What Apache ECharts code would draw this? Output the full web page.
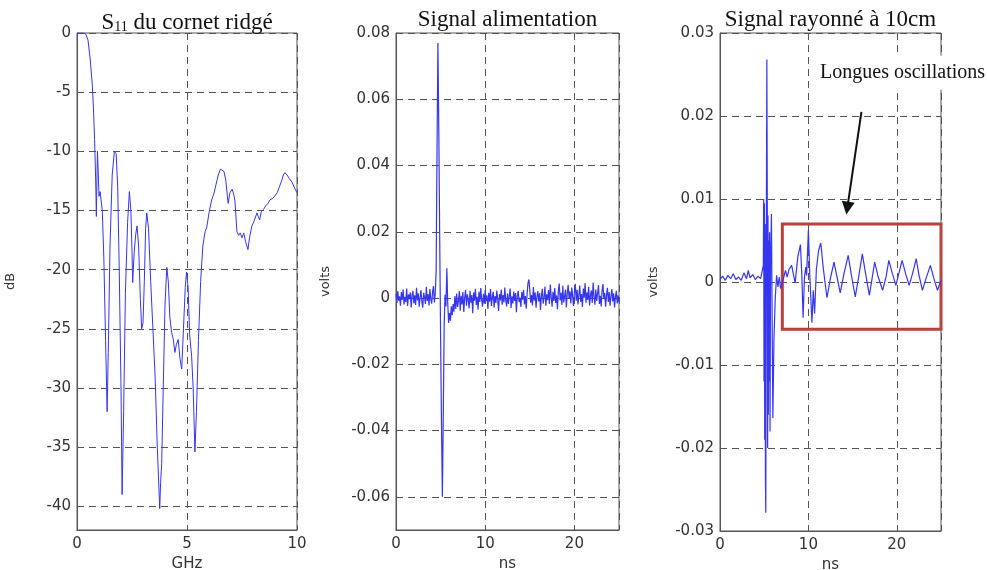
<!DOCTYPE html>
<html><head><meta charset="utf-8">
<script src="https://cdn.jsdelivr.net/npm/echarts@6/dist/echarts.min.js"></script>
<style>html,body{margin:0;padding:0;background:#fff}#c{width:987px;height:570px}</style>
</head><body><div id="c"></div>
<script>
// ---------- DATA ----------
const panelTitles = ['S11 du cornet ridgé', 'Signal alimentation', 'Signal rayonné à 10cm'];
const xAxisNames = ['GHz', 'ns', 'ns'];
const yAxisNames = ['dB', 'volts', 'volts'];

// S11 (GHz, dB)
const s11Points = [
  [0,0],[0.1,0],[0.2,0],[0.3,0],[0.4,-0.1],[0.5,-0.6],[0.6,-2.2],[0.7,-4.5],[0.75,-6.5],[0.8,-9],
  [0.85,-12.5],[0.88,-15.5],[0.9,-13],[0.93,-10],[0.96,-11.5],[1.0,-13.8],[1.05,-13.4],[1.15,-15],
  [1.22,-19],[1.3,-26],[1.37,-32],[1.42,-27],[1.5,-18],[1.6,-12],[1.7,-10],[1.78,-10.2],[1.85,-13],
  [1.92,-20],[2.0,-30],[2.05,-39],[2.12,-32],[2.2,-22],[2.3,-16],[2.38,-13.4],[2.45,-15],[2.5,-18.5],
  [2.53,-21.1],[2.6,-18.5],[2.67,-17],[2.73,-16.3],[2.8,-18],[2.88,-22.5],[2.94,-25],[3.0,-24.5],
  [3.06,-21],[3.12,-16.5],[3.17,-15.2],[3.25,-16.5],[3.35,-21],[3.45,-25],[3.55,-29],[3.65,-35],
  [3.76,-40.2],[3.8,-38],[3.85,-36.4],[3.92,-30],[4.0,-23],[4.08,-19.8],[4.15,-21],[4.22,-24],
  [4.3,-25.3],[4.38,-25.9],[4.45,-27],[4.52,-26.3],[4.6,-25.9],[4.68,-27.5],[4.76,-28.4],[4.84,-25],
  [4.92,-21.5],[4.98,-20.2],[5.05,-21.5],[5.12,-25.5],[5.21,-27.3],[5.28,-30],[5.36,-35.4],[5.43,-32],
  [5.52,-26],[5.62,-21],[5.72,-18],[5.82,-16.8],[5.9,-16.4],[6.0,-15.2],[6.12,-14.1],[6.22,-13.6],
  [6.32,-12.8],[6.42,-12.0],[6.52,-11.5],[6.6,-11.4],[6.68,-11.7],[6.76,-12.4],[6.87,-14.4],[6.95,-13.5],
  [7.05,-13.2],[7.12,-13.6],[7.18,-14.2],[7.27,-16.8],[7.35,-17.1],[7.42,-16.9],[7.5,-17.3],[7.58,-16.9],
  [7.66,-17.6],[7.77,-18.3],[7.85,-17.2],[7.95,-16.3],[8.05,-15.9],[8.18,-15.2],[8.24,-15.5],[8.3,-15.8],
  [8.38,-15.1],[8.48,-14.9],[8.58,-14.6],[8.68,-14.4],[8.77,-14.1],[8.88,-14.0],[8.98,-13.8],[9.1,-13.5],
  [9.2,-13.0],[9.3,-12.5],[9.38,-12.0],[9.45,-11.8],[9.55,-12.0],[9.65,-12.3],[9.77,-12.6],[9.87,-13.0],
  [9.94,-13.3],[10.0,-13.5]
];

// Feed signal, sampled every 0.1 ns (values in mV)
const feedStepNs = 0.1;
const feedValuesMv = [
  1.2,-1.5,2.1,-0.8,0.5,-2.3,1.8,-0.6,2.6,-1.9,
  0.4,-1.2,2.9,-2.4,1.1,-0.3,1.7,-2.8,0.9,2.2,
  -1.6,0.8,-2.1,3.1,-0.7,1.4,-2.6,0.2,2.4,-1.1,
  -2.9,1.6,0.3,-1.8,3.4,-0.9,1.2,-2.2,2.7,-0.4,
  -1.7,1.9,3.6,-1.3,1.5,8,45,77,50,18,
  -12,-38,-60,-35,-8,1.0,-2.5,9,-1.5,-7.5,
  -4.5,-6.8,-2.5,-5.2,-1.8,-4.1,0.6,-3.3,1.4,-2.7,
  -0.9,2.1,-3.8,0.7,-1.9,1.8,-4.2,0.2,2.5,-2.3,
  1.1,-0.7,-3.1,2.2,-1.4,0.9,-4.6,1.7,-0.8,2.8,
  -2.1,0.4,-3.5,1.9,-1.2,3.0,-0.5,-2.6,1.3,-1.7,
  2.4,-0.9,0.8,-3.3,1.6,-1.1,2.7,-2.4,0.3,1.9,
  -2.8,0.6,-1.5,2.3,-0.4,-3.9,1.2,-0.7,2.6,-2.0,
  0.9,-1.3,3.2,-0.6,-2.5,1.4,-1.8,0.7,2.9,-3.0,
  0.5,-1.6,2.0,-0.9,1.5,-4.3,0.8,2.2,-1.2,0.1,
  -2.7,1.8,-0.5,2.5,-1.9,0.6,-3.2,1.3,4.6,5.6,
  2.4,-1.4,0.9,-2.2,3.3,-0.8,1.7,-2.9,0.4,2.1,
  -1.0,1.5,-3.6,0.7,2.8,-1.7,0.2,3.5,-2.3,1.1,
  -0.6,2.4,-1.8,4.1,0.3,-2.6,1.9,-0.9,3.0,-1.5,
  0.8,-3.4,2.2,4.4,-0.7,1.6,-2.1,3.7,-1.3,0.5,
  2.6,-2.8,1.4,4.0,-0.2,2.0,-1.6,3.2,0.6,-2.4,
  1.8,4.3,-0.8,2.5,-1.9,0.9,3.8,-1.1,1.2,-2.7,
  2.9,0.1,4.5,-1.4,1.7,-0.6,3.4,-2.2,0.8,2.3,
  -1.5,4.7,0.4,-2.0,2.6,-0.9,1.3,3.9,-1.8,0.7,
  -2.5,2.1,4.2,-0.3,1.5,-2.6,0.9,3.1,-1.2,1.8,
  -2.3,0.6,2.7,-1.0,1.4,-2.8,0.3,2.2,-1.6,0.8,
  -1.2
];

// Radiated signal at 10 cm (ns, mV)
const radiatedPoints = [
  [0,0.3],[0.3,0.7],[0.6,0.2],[0.9,0.8],[1.2,0.4],[1.5,1.0],[1.8,0.3],[2.1,0.6],[2.4,0.2],[2.7,1.1],
  [3.0,0.4],[3.2,1.4],[3.4,0.5],[3.7,0.9],[4.0,0.3],[4.3,0.7],[4.6,0.4],[4.8,0.6],[4.9,2],
  [4.94,10],[4.98,-12],[5.02,9.5],[5.06,-19],[5.1,7],[5.14,-24],[5.18,-27.8],[5.24,6],[5.3,26.8],
  [5.35,9],[5.39,-20],[5.43,8],[5.47,-16],[5.51,5],[5.55,-12],[5.6,6],[5.66,-18],[5.72,3],
  [5.82,8.2],[5.9,-5],[5.98,-16.4],[6.1,-7],[6.25,-2],[6.4,0.8],[6.55,-0.6],[6.7,0.6],[6.85,-0.8],
  [7.0,-0.6],[7.2,0.5],[7.4,1.4],[7.6,0.6],[7.8,1.5],[8.1,2.0],[8.5,-0.1],
  [8.8,3.0],[9.1,4.5],[9.25,1.0],[9.4,-4.3],[9.55,0.5],[9.7,1.8],[9.8,0.8],[10.0,6.3],[10.15,1.0],
  [10.4,-4.9],[10.55,-1.0],[10.7,-3.8],[10.9,1.5],[11.15,3.8],[11.4,4.7],[11.7,1.5],[12.1,-1.9],
  [12.5,0.5],[12.9,2.4],[13.2,0.8],[13.6,-1.3],[14.0,0.9],[14.5,3.2],[14.9,0.6],[15.3,-1.8],
  [15.7,0.7],[16.1,3.4],[16.5,0.8],[16.9,-1.6],[17.2,0.4],[17.5,2.4],[17.9,0.6],[18.4,-1.0],
  [18.8,0.7],[19.1,2.6],[19.5,1.0],[19.9,-0.4],[20.2,0.9],[20.6,2.6],[21.0,1.0],[21.4,-0.4],
  [21.8,1.1],[22.2,2.8],[22.5,0.9],[22.9,-1.0],[23.3,0.4],[23.8,2.0],[24.2,0.4],[24.6,-1.0],[25,0.2]
];

// Annotation (data coordinates of panel 3)
const oscillationBox = [[7.05, 0.007], [25, -0.0057]];
const arrowFrom = [16.0, 0.0205];
const arrowTo = [14.4, 0.0089];
const noteAnchor = [11.1, 0.0252];
const noteText = 'Longues oscillations';

// ---------- CHART ----------
const LINE = '#3535f2';
const AX = '#555';
const tickFont = { fontFamily: 'DejaVu Sans', fontSize: 15, color: '#333' };
const grids = [
  { left: 77, top: 33, width: 220, height: 497 },
  { left: 396, top: 33, width: 223, height: 497 },
  { left: 720, top: 33, width: 221, height: 498 }
];
const nameGaps = [60, 64, 60];

function xAxis(i, min, max, interval, showMax) {
  return {
    type: 'value', gridIndex: i, min, max, interval,
    name: xAxisNames[i], nameLocation: 'middle', nameGap: 22,
    nameTextStyle: { fontFamily: 'DejaVu Sans', fontSize: 15, color: '#333' },
    axisLine: { show: true, onZero: false, lineStyle: { color: AX } },
    axisTick: { show: true, inside: true, length: 5, lineStyle: { color: AX } },
    axisLabel: Object.assign({ margin: 7, showMaxLabel: showMax, showMinLabel: true }, tickFont),
    splitLine: { show: true, lineStyle: { type: [7, 5], color: AX, width: 1 } }
  };
}
function yAxis(i, min, max, extra) {
  return Object.assign({
    type: 'value', gridIndex: i, min, max,
    name: yAxisNames[i], nameLocation: 'middle', nameGap: nameGaps[i], nameRotate: 90,
    nameTextStyle: { fontFamily: 'DejaVu Sans', fontSize: 13, color: '#333' },
    axisLine: { show: true, onZero: false, lineStyle: { color: AX } },
    axisTick: { show: true, inside: true, length: 5, lineStyle: { color: AX } },
    axisLabel: Object.assign({ margin: 6, showMinLabel: false, showMaxLabel: true }, tickFont),
    splitLine: { show: true, lineStyle: { type: [7, 5], color: AX, width: 1 } }
  }, extra);
}

const feedData = feedValuesMv.map((v, i) => [Math.round(i * feedStepNs * 100) / 100, v / 1000]);
const radiatedData = radiatedPoints.map(p => [p[0], p[1] / 1000]);

const titleStyle = { fontFamily: 'Liberation Serif', fontSize: 23, fontWeight: 'normal', color: '#111', lineHeight: 28 };
const titles = grids.map((g, i) => ({
  left: g.left + g.width / 2, top: 6, padding: 0, textAlign: 'center',
  text: i === 0 ? '{a|S}{b|11}{a|' + panelTitles[0].slice(3) + '}' : panelTitles[i],
  textStyle: Object.assign({}, titleStyle, i === 0 ? {
    rich: {
      a: { fontFamily: 'Liberation Serif', fontSize: 23, color: '#111', lineHeight: 28, verticalAlign: 'bottom' },
      b: { fontFamily: 'Liberation Serif', fontSize: 14, color: '#111', lineHeight: 11, verticalAlign: 'bottom' }
    }
  } : {})
}));

const option = {
  animation: false,
  backgroundColor: '#fff',
  title: titles,
  grid: grids.map(g => Object.assign({ show: true, borderColor: AX, borderWidth: 1, backgroundColor: 'transparent', outerBoundsMode: 'none', containLabel: false }, g)),
  xAxis: [xAxis(0, 0, 10, 5, true), xAxis(1, 0, 25, 10, false), xAxis(2, 0, 25, 10, false)],
  yAxis: [
    yAxis(0, -42, 0, { splitNumber: 8 }),
    yAxis(1, -0.07, 0.08, { splitNumber: 7 }),
    yAxis(2, -0.03, 0.03, { interval: 0.01, axisLabel: Object.assign({ margin: 6, showMinLabel: true, showMaxLabel: true }, tickFont) })
  ],
  series: [
    { type: 'line', xAxisIndex: 0, yAxisIndex: 0, data: s11Points, symbol: 'none', lineStyle: { color: LINE, width: 1 } },
    { type: 'line', xAxisIndex: 1, yAxisIndex: 1, data: feedData, symbol: 'none', lineStyle: { color: LINE, width: 1.2 } },
    {
      type: 'line', xAxisIndex: 2, yAxisIndex: 2, data: radiatedData, symbol: 'none', lineStyle: { color: LINE, width: 1.2 },
      markArea: {
        silent: true,
        itemStyle: { color: 'rgba(0,0,0,0)', borderColor: '#b8413c', borderWidth: 3 },
        data: [[{ coord: oscillationBox[0] }, { coord: oscillationBox[1] }]]
      },
      markLine: {
        silent: true, symbol: ['none', 'triangle'], symbolSize: 13,
        lineStyle: { color: '#111', width: 2, type: 'solid' },
        label: { show: false },
        data: [[{ coord: arrowFrom }, { coord: arrowTo }]]
      },
      markPoint: {
        silent: true, symbol: 'circle', symbolSize: 0,
        itemStyle: { color: 'rgba(0,0,0,0)' },
        label: {
          show: true, position: 'right', distance: 0, formatter: noteText,
          fontFamily: 'Liberation Serif', fontSize: 20, color: '#111',
          backgroundColor: '#fff', padding: [7, 2, 7, 2]
        },
        data: [{ coord: noteAnchor }]
      }
    }
  ]
};
const chart = echarts.init(document.getElementById('c'), null, { renderer: 'canvas' });
chart.setOption(option);
</script></body></html>
